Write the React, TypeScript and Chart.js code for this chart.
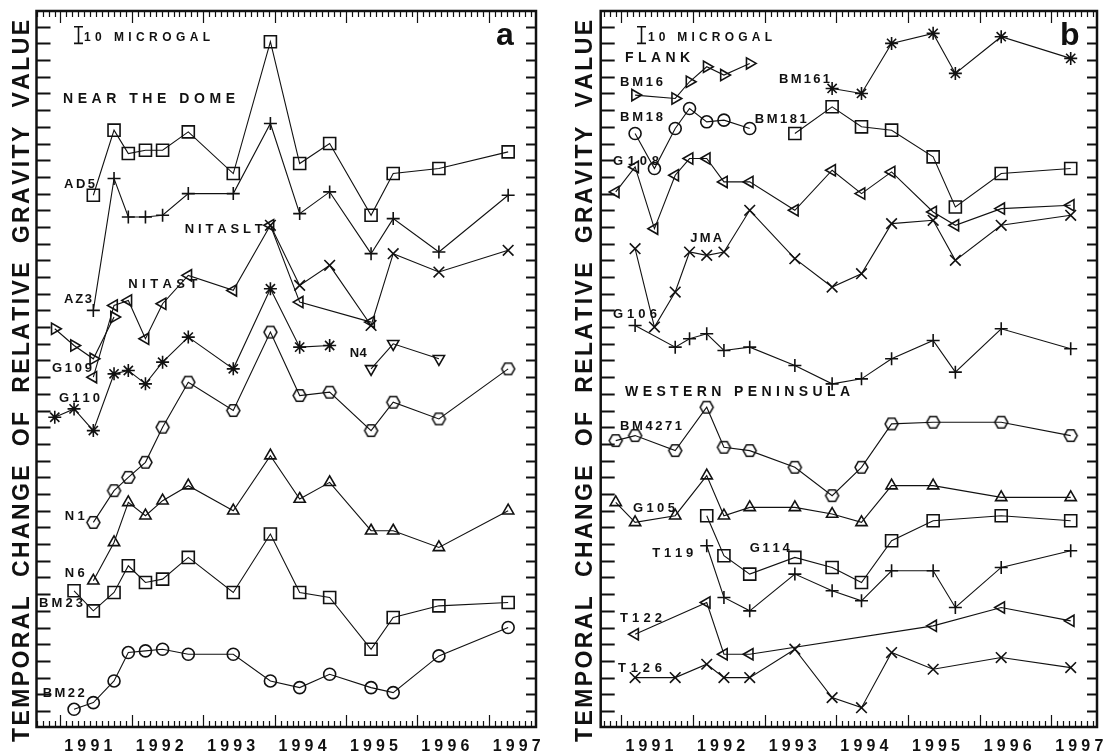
import React, { useEffect, useRef } from 'react';
import { Chart, registerables } from 'chart.js';
Chart.register(...registerables);

const N = null;
// survey epochs (decimal year)
const EPOCHS = [1990.92, 1991.19, 1991.46, 1991.75, 1991.95, 1992.19, 1992.43, 1992.79, 1993.42, 1993.94, 1994.35, 1994.77, 1995.35, 1995.66, 1996.30, 1997.27];
const YEARS = [1991, 1992, 1993, 1994, 1995, 1996, 1997];

// ---- panel a : near the dome (microgal, arbitrary offsets) ----
const AD5 = [N, N, 309, 348, 334, 336, 336, 347, 322, 401, 328, 340, 297, 322, 325, 335];
const AZ3 = [N, N, 240, 319, 296, 296, 297, 310, 310, 352, 298, 311, 274, 295, 275, 309];
const NITASLT = [N, N, N, N, N, N, N, N, N, 291, 255, 267, 231, 274, 263, 276];
const NITAST = [N, N, 200, 243, 246, 223, 244, 261, 252, 291, 245, N, 233, N, N, N];
const G109 = [229, 219, 211, 236, N, N, N, N, N, N, N, N, N, N, N, N];
const N4 = [N, N, N, N, N, N, N, N, N, N, N, N, 205, 220, 211, N];
const G110 = [176, 181, 168, 202, 204, 196, 209, 224, 205, 253, 218, 219, N, N, N, N];
const N1 = [N, N, 113, 132, 140, 149, 170, 197, 180, 227, 189, 191, 168, 185, 175, 205];
const N6 = [N, N, 78, 101, 125, 117, 126, 135, 120, 153, 127, 137, 108, 108, 98, 120];
const BM23 = [N, 72, 60, 71, 87, 77, 79, 92, 71, 106, 71, 68, 37, 56, 63, 65];
const BM22 = [N, 1, 5, 18, 35, 36, 37, 34, 34, 18, 14, 22, 14, 11, 33, 50];

// ---- panel b : flank and western peninsula ----
const BM16 = [N, 369, N, 367, 377, 386, 381, 388, N, N, N, N, N, N, N, N];
const BM161 = [N, N, N, N, N, N, N, N, N, 373, 370, 400, 406, 382, 404, 391];
const BM18 = [N, 346, 325, 349, 361, 353, 354, 349, N, N, N, N, N, N, N, N];
const BM181 = [N, N, N, N, N, N, N, N, 346, 362, 350, 348, 332, 302, 322, 325];
const G108 = [311, 326, 289, 321, 331, 331, 317, 317, 300, 324, 310, 323, 299, 291, 301, 303];
const JMA = [N, 277, 230, 251, 275, 273, 275, 300, 271, 254, 262, 292, 294, 270, 291, 297];
const G106 = [N, 231, N, 218, 223, 226, 216, 218, 207, 196, 199, 211, 222, 203, 229, 217];
const BM4271 = [162, 165, N, 156, N, 182, 158, 156, 146, 129, 146, 172, 173, N, 173, 165];
const G105 = [125, 113, N, 117, N, 141, 117, 122, 122, 118, 113, 135, 135, N, 128, 128];
const G114 = [N, N, N, N, N, 117, 93, 82, 92, 86, 77, 102, 114, N, 117, 114];
const T119 = [N, N, N, N, N, 99, 68, 60, 82, 72, 66, 84, 84, 62, 86, 96];
const T122 = [N, 46, N, N, N, 65, 34, 34, N, N, N, N, 51, N, 62, 54];
const T126 = [N, 20, N, 20, N, 28, 20, 20, 37, 8, 2, 35, 25, N, 32, 26];

type Lbl = { t: string; x: number; y: number; w: number; fs?: number };

const LABELS_A: Lbl[] = [
  { t: '10 MICROGAL', x: 1991.33, y: 404, w: 126, fs: 12 },
  { t: 'NEAR THE DOME', x: 1991.035, y: 367, w: 172, fs: 14 },
  { t: 'AD5', x: 1991.05, y: 316, w: 31 },
  { t: 'NITASLT', x: 1992.74, y: 289, w: 78 },
  { t: 'NITAST', x: 1991.95, y: 256, w: 69 },
  { t: 'AZ3', x: 1991.05, y: 247, w: 28 },
  { t: 'G109', x: 1990.88, y: 206, w: 40 },
  { t: 'G110', x: 1990.98, y: 188, w: 41 },
  { t: 'N4', x: 1995.05, y: 215, w: 17 },
  { t: 'N1', x: 1991.06, y: 117, w: 20 },
  { t: 'N6', x: 1991.06, y: 83, w: 20 },
  { t: 'BM23', x: 1990.7, y: 65, w: 44 },
  { t: 'BM22', x: 1990.75, y: 11, w: 42 },
];

const LABELS_B: Lbl[] = [
  { t: '10 MICROGAL', x: 1991.37, y: 404, w: 124, fs: 12 },
  { t: 'FLANK', x: 1991.05, y: 392, w: 65, fs: 14 },
  { t: 'BM16', x: 1990.98, y: 377, w: 43 },
  { t: 'BM161', x: 1993.2, y: 379, w: 51 },
  { t: 'BM18', x: 1990.98, y: 356, w: 43 },
  { t: 'BM181', x: 1992.86, y: 355, w: 52 },
  { t: 'G108', x: 1990.88, y: 330, w: 46 },
  { t: 'JMA', x: 1991.96, y: 284, w: 32 },
  { t: 'G106', x: 1990.88, y: 238, w: 44 },
  { t: 'WESTERN PENINSULA', x: 1991.05, y: 192, w: 225, fs: 14 },
  { t: 'BM4271', x: 1990.98, y: 171, w: 62 },
  { t: 'G105', x: 1991.16, y: 122, w: 42 },
  { t: 'T119', x: 1991.43, y: 95, w: 41 },
  { t: 'G114', x: 1992.79, y: 98, w: 40 },
  { t: 'T122', x: 1990.98, y: 56, w: 42 },
  { t: 'T126', x: 1990.95, y: 26, w: 44 },
];

const TITLE = 'TEMPORAL CHANGE OF RELATIVE GRAVITY VALUE';
const FONT = '"Liberation Sans", Arial, Helvetica, sans-serif';
const INK = '#111';

function makeHexagon(r: number): HTMLCanvasElement {
  const c = document.createElement('canvas');
  const s = Math.ceil(r * 2 + 4);
  c.width = s;
  c.height = s;
  const g = c.getContext('2d')!;
  g.strokeStyle = INK;
  g.lineWidth = 1.5;
  g.beginPath();
  for (let i = 0; i < 6; i++) {
    const a = (Math.PI / 3) * i;
    const px = s / 2 + r * Math.cos(a);
    const py = s / 2 + r * Math.sin(a);
    if (i === 0) g.moveTo(px, py);
    else g.lineTo(px, py);
  }
  g.closePath();
  g.stroke();
  return c;
}

function series(vals: (number | null)[], style: any, rot = 0, r = 6) {
  return {
    data: vals
      .map((v, i) => (v == null ? null : { x: EPOCHS[i], y: v }))
      .filter((p) => p !== null),
    borderColor: INK,
    borderWidth: 1.1,
    pointStyle: style,
    pointRotation: rot,
    pointRadius: r,
    pointBorderWidth: 1.6,
    pointBorderColor: INK,
    pointBackgroundColor: 'rgba(0,0,0,0)',
    fill: false,
    tension: 0,
    clip: false as any,
  };
}

function spaced(ctx: CanvasRenderingContext2D, text: string, x: number, y: number, width: number) {
  const chars = Array.from(text);
  const nat = chars.reduce((s, c) => s + ctx.measureText(c).width, 0);
  const sp = chars.length > 1 ? (width - nat) / (chars.length - 1) : 0;
  let cx = x;
  for (const c of chars) {
    ctx.fillText(c, cx, y);
    cx += ctx.measureText(c).width + sp;
  }
}

type PanelProps = {
  left: number;
  width: number;
  xmin: number;
  xmax: number;
  pad: { left: number; right: number; top: number; bottom: number };
  titleX: number;
  letter: string;
  letterX: number;
  ibeamX: number;
  labels: Lbl[];
  build: (hex: HTMLCanvasElement) => any[];
};

const Y_MIN = -9.6;
const Y_MAX = 419.4;

function Panel(p: PanelProps) {
  const ref = useRef<HTMLCanvasElement>(null);
  useEffect(() => {
    const hex = makeHexagon(6.5);
    const plugin = {
      id: 'gravFrame',
      afterDraw(chart: any) {
        const { ctx, chartArea: a, scales } = chart;
        const xs = scales.x;
        const ys = scales.y;
        ctx.save();
        ctx.strokeStyle = INK;
        ctx.fillStyle = INK;
        // y ticks every 10 microgal
        ctx.lineWidth = 2;
        for (let v = 0; v <= 410; v += 10) {
          const py = Math.round(ys.getPixelForValue(v)) + 0.5;
          ctx.beginPath();
          ctx.moveTo(a.left, py);
          ctx.lineTo(a.left + 14, py);
          ctx.moveTo(a.right, py);
          ctx.lineTo(a.right - 10, py);
          ctx.stroke();
        }
        // x ticks monthly
        ctx.lineWidth = 1.2;
        const m0 = Math.ceil(xs.min * 12);
        const m1 = Math.floor(xs.max * 12);
        for (let m = m0; m <= m1; m++) {
          const px = Math.round(xs.getPixelForValue(m / 12)) + 0.5;
          const len = m % 12 === 0 ? 12 : 6;
          ctx.beginPath();
          ctx.moveTo(px, a.top);
          ctx.lineTo(px, a.top + len);
          ctx.moveTo(px, a.bottom);
          ctx.lineTo(px, a.bottom - len);
          ctx.stroke();
        }
        // frame
        ctx.lineWidth = 2.5;
        ctx.strokeRect(a.left, a.top, a.right - a.left, a.bottom - a.top);
        // year labels
        ctx.font = `bold 16px ${FONT}`;
        ctx.textBaseline = 'alphabetic';
        for (const yr of YEARS) {
          const cx = xs.getPixelForValue(yr + 0.39);
          spaced(ctx, String(yr), cx - 24, 751, 48);
        }
        // station labels
        for (const l of p.labels) {
          const fs = l.fs || 13;
          ctx.font = `bold ${fs}px ${FONT}`;
          const px = xs.getPixelForValue(l.x);
          const py = ys.getPixelForValue(l.y) + fs * 0.716 / 2;
          spaced(ctx, l.t, px, py, l.w);
        }
        // scale bar (10 microgal)
        const bx = Math.round(xs.getPixelForValue(p.ibeamX)) + 0.5;
        const b0 = ys.getPixelForValue(400);
        const b1 = ys.getPixelForValue(410);
        ctx.lineWidth = 1.6;
        ctx.beginPath();
        ctx.moveTo(bx, b0);
        ctx.lineTo(bx, b1);
        ctx.moveTo(bx - 4.5, b0);
        ctx.lineTo(bx + 4.5, b0);
        ctx.moveTo(bx - 4.5, b1);
        ctx.lineTo(bx + 4.5, b1);
        ctx.stroke();
        // panel letter
        ctx.font = `bold 32px ${FONT}`;
        ctx.fillText(p.letter, xs.getPixelForValue(p.letterX), ys.getPixelForValue(399));
        // rotated axis title
        ctx.font = `bold 23px ${FONT}`;
        const chars = Array.from(TITLE);
        const top = 20;
        const bottom = 742;
        const target = bottom - top;
        const wordGap = 8;
        const nWords = TITLE.split(' ').length;
        const nat = chars.reduce((s, c) => s + ctx.measureText(c).width, 0) + wordGap * (nWords - 1);
        const sp = (target - nat) / (chars.length - 1);
        ctx.translate(p.titleX, (top + bottom) / 2);
        ctx.rotate(-Math.PI / 2);
        let cx = -target / 2;
        const base = 23 * 0.716 / 2;
        for (const c of chars) {
          ctx.fillText(c, cx, base);
          cx += ctx.measureText(c).width + sp + (c === ' ' ? wordGap : 0);
        }
        ctx.restore();
      },
    };
    const chart = new Chart(ref.current!, {
      type: 'line',
      data: { datasets: p.build(hex) },
      options: {
        responsive: false,
        animation: false,
        events: [],
        layout: { padding: p.pad },
        plugins: { legend: { display: false }, tooltip: { enabled: false }, title: { display: false } },
        scales: {
          x: { type: 'linear', min: p.xmin, max: p.xmax, display: false },
          y: { type: 'linear', min: Y_MIN, max: Y_MAX, display: false },
        },
      },
      plugins: [plugin],
    } as any);
    return () => chart.destroy();
  }, []);
  return (
    <canvas
      ref={ref}
      width={p.width}
      height={753}
      style={{ position: 'absolute', left: p.left, top: 0, width: p.width, height: 753 }}
    />
  );
}

export default function App() {
  return (
    <div style={{ position: 'fixed', left: 0, top: 0, width: 1109, height: 753, background: '#fff', overflow: 'hidden' }}>
      <Panel
        left={0}
        width={560}
        xmin={1990.664}
        xmax={1997.66}
        pad={{ left: 36.5, right: 24, top: 11, bottom: 26 }}
        titleX={21}
        letter="a"
        letterX={1997.1}
        ibeamX={1991.245}
        labels={LABELS_A}
        build={(hex) => [
          series(AD5, 'rect', 0, 8.5),
          series(AZ3, 'cross', 0, 6.5),
          series(NITASLT, 'crossRot', 0, 7.5),
          series(NITAST, 'triangle', 270, 6.5),
          series(G109, 'triangle', 90, 6.5),
          series(N4, 'triangle', 180, 6.5),
          series(G110, 'star', 0, 6.5),
          series(N1, hex, 0, 6.5),
          series(N6, 'triangle', 0, 6.5),
          series(BM23, 'rect', 0, 8.5),
          series(BM22, 'circle', 0, 6),
        ]}
      />
      <Panel
        left={560}
        width={549}
        xmin={1990.71}
        xmax={1997.637}
        pad={{ left: 40.7, right: 12, top: 11, bottom: 26 }}
        titleX={24}
        letter="b"
        letterX={1997.12}
        ibeamX={1991.27}
        labels={LABELS_B}
        build={(hex) => [
          series(BM16, 'triangle', 90, 6.5),
          series(BM161, 'star', 0, 6.5),
          series(BM18, 'circle', 0, 6),
          series(BM181, 'rect', 0, 8.5),
          series(G108, 'triangle', 270, 6.5),
          series(JMA, 'crossRot', 0, 7.5),
          series(G106, 'cross', 0, 6.5),
          series(BM4271, hex, 0, 6.5),
          series(G105, 'triangle', 0, 6.5),
          series(G114, 'rect', 0, 8.5),
          series(T119, 'cross', 0, 6.5),
          series(T122, 'triangle', 270, 6.5),
          series(T126, 'crossRot', 0, 7.5),
        ]}
      />
    </div>
  );
}
